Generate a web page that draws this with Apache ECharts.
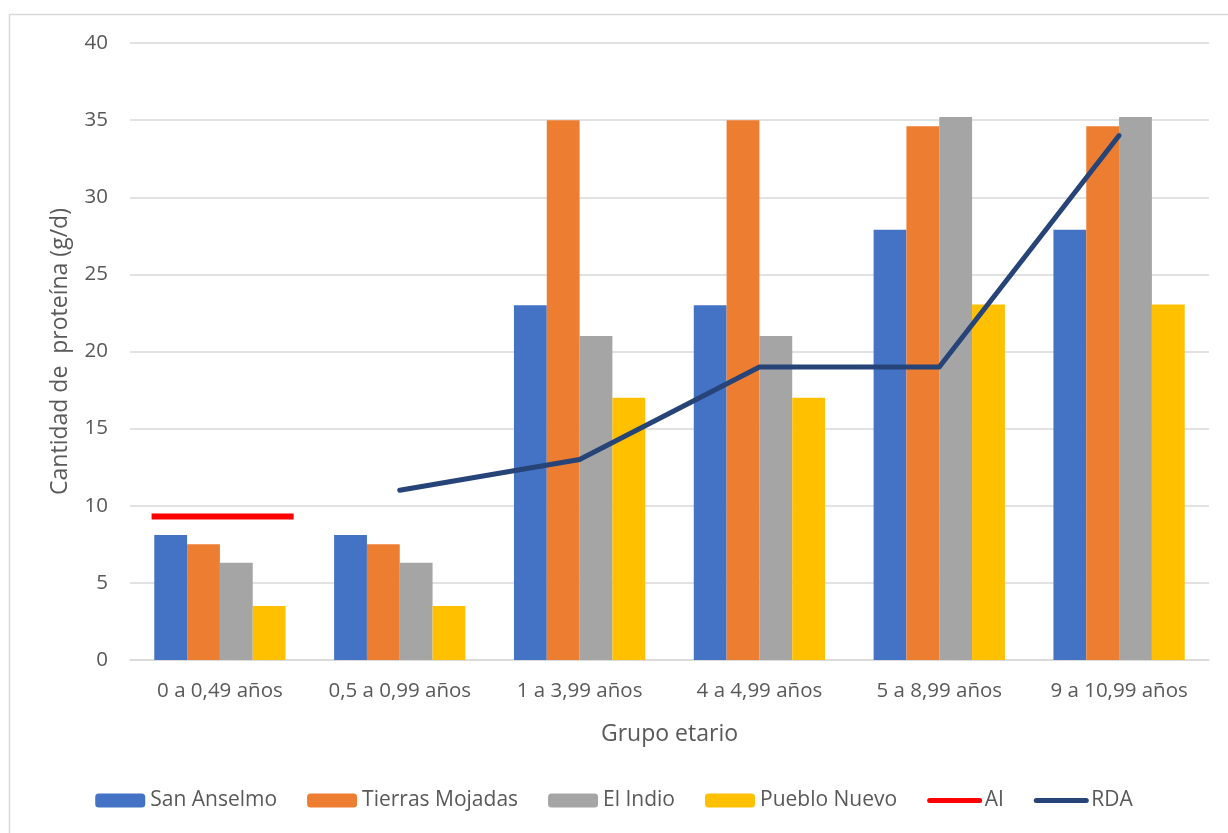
<!DOCTYPE html>
<html>
<head>
<meta charset="utf-8">
<script src="https://cdn.jsdelivr.net/npm/echarts@6/dist/echarts.min.js"></script>
<style>
  html, body { margin: 0; padding: 0; background: #ffffff; }
  #chart { width: 1228px; height: 833px; }
</style>
</head>
<body>
<div id="chart"></div>
<script>
// Age groups on the category axis
const categories = ['0 a 0,49 años', '0,5 a 0,99 años', '1 a 3,99 años', '4 a 4,99 años', '5 a 8,99 años', '9 a 10,99 años'];

// Protein intake (g/d) per community
const sanAnselmo = [8.1, 8.1, 23, 23, 27.9, 27.9];
const tierrasMojadas = [7.5, 7.5, 35, 35, 34.6, 34.6];
const elIndio = [6.3, 6.3, 21, 21, 35.2, 35.2];
const puebloNuevo = [3.5, 3.5, 17, 17, 23.05, 23.05];

// Adequate intake (first age group only) and recommended dietary allowance
const aiValues = [[0, 9.3]];
const rdaValues = [null, 11, 13, 19, 19, 34];

const yTicks = { min: 0, max: 40, interval: 5 };

const FONT = '"Open Sans", "Noto Sans", sans-serif';
const TEXT = '#595959';
const GRID = '#d9d9d9';

const chart = echarts.init(document.getElementById('chart'), null, { renderer: 'canvas' });

function barSeries(name, data, color) {
  return {
    name: name,
    type: 'bar',
    data: data,
    barGap: '0%',
    barCategoryGap: '27%',
    itemStyle: { color: color },
    emphasis: { disabled: true }
  };
}

chart.setOption({
  animation: false,
  textStyle: { fontFamily: FONT },
  graphic: [{
    type: 'rect',
    silent: true,
    shape: { x: 9.5, y: 14.5, width: 1240, height: 840 },
    style: { fill: 'none', stroke: GRID, lineWidth: 1.5 }
  }],
  grid: { left: 130, right: 19, top: 43, bottom: 173 },
  legend: {
    bottom: 17,
    left: 'center',
    itemWidth: 50,
    itemHeight: 14,
    itemGap: 30,
    textStyle: { color: TEXT, fontSize: 21, fontFamily: FONT },
    data: [
      'San Anselmo', 'Tierras Mojadas', 'El Indio', 'Pueblo Nuevo',
      { name: 'AI', itemStyle: { opacity: 0 }, lineStyle: { color: '#ff0000', width: 5, cap: 'round' } },
      { name: 'RDA', itemStyle: { opacity: 0 }, lineStyle: { color: '#264478', width: 5, cap: 'round' } }
    ]
  },
  xAxis: {
    type: 'category',
    data: categories,
    name: 'Grupo etario',
    nameLocation: 'middle',
    nameGap: 63,
    nameTextStyle: { color: TEXT, fontSize: 23, fontFamily: FONT },
    axisLine: { lineStyle: { color: GRID, width: 1.5 } },
    axisTick: { show: false },
    axisLabel: { color: TEXT, fontSize: 20.5, margin: 21, interval: 0, fontFamily: FONT }
  },
  yAxis: {
    type: 'value',
    min: yTicks.min,
    max: yTicks.max,
    interval: yTicks.interval,
    name: 'Cantidad de  proteína (g/d)',
    nameLocation: 'middle',
    nameGap: 58,
    nameRotate: 90,
    nameTextStyle: { color: TEXT, fontSize: 23, fontFamily: FONT },
    axisLine: { show: false },
    axisTick: { show: false },
    axisLabel: { color: TEXT, fontSize: 20.5, margin: 22, fontFamily: FONT },
    splitLine: { lineStyle: { color: GRID, width: 1.5 } }
  },
  series: [
    barSeries('San Anselmo', sanAnselmo, '#4472c4'),
    barSeries('Tierras Mojadas', tierrasMojadas, '#ed7d31'),
    barSeries('El Indio', elIndio, '#a5a5a5'),
    barSeries('Pueblo Nuevo', puebloNuevo, '#ffc000'),
    {
      // legend entry for the AI segment
      name: 'AI',
      type: 'line',
      data: [],
      symbol: 'none',
      color: '#ff0000',
      lineStyle: { color: '#ff0000', width: 6, cap: 'round' }
    },
    {
      name: 'AI',
      type: 'custom',
      data: aiValues,
      z: 5,
      renderItem: function (params, api) {
        const c = api.coord([api.value(0), api.value(1)]);
        const band = api.size([1, 0])[0];
        return {
          type: 'line',
          shape: { x1: c[0] - band * 0.38, y1: c[1], x2: c[0] + band * 0.41, y2: c[1] },
          style: { stroke: '#ff0000', lineWidth: 6 }
        };
      }
    },
    {
      name: 'RDA',
      type: 'line',
      data: rdaValues,
      symbol: 'none',
      z: 6,
      color: '#264478',
      lineStyle: { color: '#264478', width: 5, cap: 'round', join: 'round' },
      emphasis: { disabled: true }
    }
  ]
});
</script>
</body>
</html>
